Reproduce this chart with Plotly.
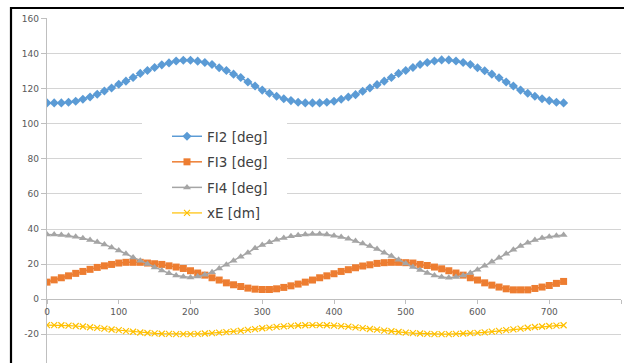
import plotly.graph_objects as go

# ---------------- data ----------------
angle = list(range(0, 721, 10))

fi2 = [111.9, 111.9, 111.9, 112.3, 112.8, 114.0, 115.3, 116.8, 118.7, 120.4,
       122.5, 124.3, 126.4, 128.7, 130.4, 132.1, 133.6, 134.7, 135.8, 136.2,
       136.2, 135.7, 134.9, 133.8, 131.9, 130.4, 128.3, 126.4, 123.8, 121.5,
       119.2, 117.4, 115.7, 114.3, 113.2, 112.3, 111.9,
       111.9, 111.9, 112.3, 112.8, 114.0, 115.3, 116.6, 118.5, 120.4, 122.3,
       124.3, 126.4, 128.7, 130.4, 132.1, 133.8, 134.9, 135.8, 136.4, 136.4,
       135.8, 134.9, 133.8, 131.9, 130.2, 128.3, 126.2, 123.8, 121.5, 119.2,
       117.4, 115.7, 114.3, 113.2, 112.3, 111.9]

fi3 = [9.7, 11.0, 12.2, 13.3, 14.7, 15.8, 17.0, 18.1, 19.0, 19.8,
       20.6, 21.0, 21.0, 21.0, 20.6, 20.2, 19.8, 19.0, 18.3, 17.5,
       16.2, 14.9, 13.7, 12.2, 10.9, 9.3, 8.2,
       7.2, 6.3, 5.7, 5.5, 5.5, 5.9, 6.7, 7.6, 8.6, 9.7,
       10.9, 12.2, 13.3, 14.5, 15.8, 16.8, 17.9, 18.9, 19.6, 20.4,
       20.8, 21.0, 21.0,
       20.8, 20.6, 19.8, 19.2, 18.3, 17.3, 16.2, 14.9, 13.7, 12.2,
       10.9, 9.3, 8.0, 6.9, 5.9, 5.3, 5.3, 5.3, 6.1, 6.9,
       7.8, 9.0, 10.1]

fi4 = [36.8, 36.8, 36.6, 36.2, 35.6, 34.7, 33.7, 32.6, 31.2, 29.5,
       27.8, 25.9, 23.8, 21.9, 20.0, 18.1, 16.4, 14.7, 13.5, 12.8,
       12.4, 12.9, 13.9, 15.4, 17.5, 19.6, 21.9, 24.2, 26.5, 29.0,
       30.9, 32.4, 33.9, 34.9, 35.8, 36.4, 36.8,
       37.1, 37.1, 36.8, 36.2, 35.4, 34.5, 33.1, 31.8, 30.3, 28.6,
       26.5, 24.6, 22.5, 20.4, 18.3, 16.6, 14.9, 13.5, 12.6, 12.2,
       12.6, 13.5, 14.9, 16.8, 19.0, 21.3, 23.6, 25.9, 28.2, 30.3,
       32.2, 33.7, 34.9, 35.6, 36.2, 36.6]

xe = [-14.8, -14.8, -14.9, -15.1, -15.3, -15.6, -16.0, -16.4, -16.8, -17.3,
      -17.7, -18.2, -18.6, -19.0, -19.3, -19.5, -19.7, -19.8, -19.9, -19.9,
      -19.9, -19.8, -19.6, -19.4, -19.1, -18.8, -18.4, -18.0, -17.5, -17.1,
      -16.6, -16.2, -15.8, -15.5, -15.2, -15.0, -14.9,
      -14.8, -14.8, -14.9, -15.1, -15.4, -15.7, -16.1, -16.5, -17.0, -17.4,
      -17.9, -18.3, -18.7, -19.1, -19.4, -19.6, -19.8, -19.9, -19.9, -19.9,
      -19.8, -19.6, -19.4, -19.2, -18.9, -18.5, -18.1, -17.7, -17.2, -16.8,
      -16.3, -15.9, -15.6, -15.3, -15.1, -14.9]

series_names = ["FI2 [deg]", "FI3 [deg]", "FI4 [deg]", "xE [dm]"]
x_ticks = [0, 100, 200, 300, 400, 500, 600, 700, 800]
y_ticks = [-20, 0, 20, 40, 60, 80, 100, 120, 140, 160]

# ---------------- styling / layout ----------------
W, H = 624, 363
ML, MR, MT, MB = 47, 3, 18, 0
Y_MIN, Y_MAX = -36.4, 160.3
X_MIN, X_MAX = 0, 800

def px_x(px):
    return (px - ML) / (W - ML - MR)

def px_y(py):
    return (H - MB - py) / (H - MT - MB)

styles = [
    dict(color="#5B9BD5", symbol="diamond", size=7, lw=1.5),
    dict(color="#ED7D31", symbol="square", size=7, lw=1.5),
    dict(color="#A5A5A5", symbol="triangle-up", size=7, lw=1.5),
    dict(color="#FFC000", symbol="x-thin", size=6, lw=1.2),
]

fig = go.Figure()
for name, vals, st in zip(series_names, [fi2, fi3, fi4, xe], styles):
    marker = dict(symbol=st["symbol"], size=st["size"], color=st["color"])
    if st["symbol"] == "x-thin":
        marker["line"] = dict(color=st["color"], width=1.2)
    else:
        marker["line"] = dict(width=0)
    fig.add_trace(go.Scatter(
        x=angle, y=vals, name=name, mode="lines+markers",
        line=dict(color=st["color"], width=st["lw"]),
        marker=marker, legendgroup=name,
    ))

tick_font = dict(family="DejaVu Sans", size=9, color="#595959")
grid_col = "#D4D4D4"

fig.update_layout(
    width=W, height=H,
    margin=dict(l=ML, r=MR, t=MT, b=MB, pad=0),
    paper_bgcolor="white", plot_bgcolor="white",
    template="none",
    showlegend=True,
    legend=dict(
        x=px_x(167), y=px_y(121), xanchor="left", yanchor="top",
        bgcolor="rgba(255,255,255,0)", borderwidth=0,
        font=dict(family="DejaVu Sans", size=13.5, color="#404040"),
        traceorder="grouped", tracegroupgap=5,
    ),
    xaxis=dict(
        range=[X_MIN, X_MAX], tickvals=x_ticks,
        ticktext=[str(v) for v in x_ticks],
        showgrid=False, zeroline=False,
        showline=True, linecolor="#BFBFBF", linewidth=1.3,
        ticks="outside", ticklen=4, tickcolor="#BFBFBF", tickwidth=1.3,
        tickfont=tick_font, anchor="free",
        position=(0 - Y_MIN) / (Y_MAX - Y_MIN),
        automargin=False,
    ),
    yaxis=dict(
        range=[Y_MIN, Y_MAX], tickvals=y_ticks,
        ticktext=[str(v) for v in y_ticks],
        showgrid=True, gridcolor=grid_col, gridwidth=1.3,
        zeroline=False,
        showline=True, linecolor="#BFBFBF", linewidth=1.3,
        ticks="outside", ticklen=5, tickcolor="#BFBFBF", tickwidth=1.3,
        tickfont=tick_font, automargin=False,
    ),
    shapes=[
        # white patch behind legend (hides gridlines like the reference)
        dict(type="rect", xref="paper", yref="paper",
             x0=px_x(142), x1=px_x(287), y0=px_y(222), y1=px_y(116),
             fillcolor="white", line=dict(width=0), layer="above"),
        # black frame (top and left) of the original screenshot
        dict(type="path", xref="paper", yref="paper",
             path=f"M {px_x(11)} {px_y(370)} L {px_x(11)} {px_y(8)} L {px_x(630)} {px_y(8)}",
             line=dict(color="black", width=2.2)),
    ],
)

fig.write_html("out.html")
